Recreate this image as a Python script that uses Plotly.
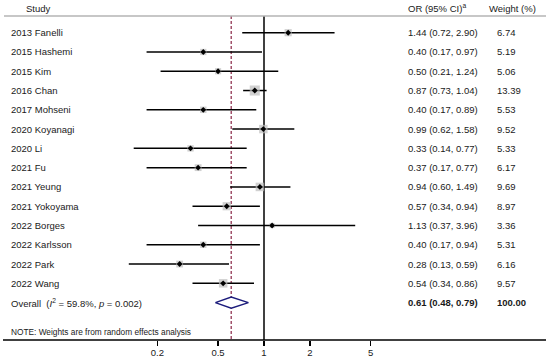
import plotly.graph_objects as go

studies = ["2013 Fanelli", "2015 Hashemi", "2015 Kim", "2016 Chan", "2017 Mohseni",
           "2020 Koyanagi", "2020 Li", "2021 Fu", "2021 Yeung", "2021 Yokoyama",
           "2022 Borges", "2022 Karlsson", "2022 Park", "2022 Wang"]
or_vals = [1.44, 0.40, 0.50, 0.87, 0.40, 0.99, 0.33, 0.37, 0.94, 0.57, 1.13, 0.40, 0.28, 0.54]
ci_low = [0.72, 0.17, 0.21, 0.73, 0.17, 0.62, 0.14, 0.17, 0.60, 0.34, 0.37, 0.17, 0.13, 0.34]
ci_high = [2.90, 0.97, 1.24, 1.04, 0.89, 1.58, 0.77, 0.77, 1.49, 0.94, 3.96, 0.94, 0.59, 0.86]
weights = [6.74, 5.19, 5.06, 13.39, 5.53, 9.52, 5.33, 6.17, 9.69, 8.97, 3.36, 5.31, 6.16, 9.57]
overall_or = 0.61
overall_low = 0.48
overall_high = 0.79
overall_weight = 100.00
overall_label = "Overall  (<i>I</i><sup>2</sup> = 59.8%, <i>p</i> = 0.002)"
note_text = "NOTE: Weights are from random effects analysis"
tick_vals = [0.2, 0.5, 1, 2, 5]
tick_text = ["0.2", "0.5", "1", "2", "5"]

W, H = 550, 361
FONT = "Liberation Sans, Arial, sans-serif"
TXT = "#1a1a1a"
FS = 9.5
rows = list(range(1, len(studies) + 1))
overall_row = len(studies) + 1
note_row = 16.54
header_row = -0.28
sep_row = 0.134

fig = go.Figure()

# CI lines
xs, ys = [], []
for r, lo, hi in zip(rows, ci_low, ci_high):
    xs += [lo, hi, None]
    ys += [r, r, None]
fig.add_trace(go.Scatter(x=xs, y=ys, mode="lines", line=dict(color="black", width=1.5),
                         hoverinfo="skip", showlegend=False))
# weight squares
fig.add_trace(go.Scatter(x=or_vals, y=rows, mode="markers",
                         marker=dict(symbol="square", color="#bdbdbd",
                                     size=[2.75 * w ** 0.5 for w in weights],
                                     line=dict(width=0)),
                         showlegend=False))
# center points
fig.add_trace(go.Scatter(x=or_vals, y=rows, mode="markers",
                         marker=dict(symbol="diamond", color="black", size=4.5, line=dict(width=0)),
                         showlegend=False))
# overall diamond
h = 0.285
fig.add_trace(go.Scatter(x=[overall_low, overall_or, overall_high, overall_or, overall_low],
                         y=[overall_row, overall_row - h, overall_row, overall_row + h, overall_row],
                         mode="lines", fill="toself", fillcolor="white",
                         line=dict(color="#1c1c7c", width=1.5), showlegend=False))

# reference lines
fig.add_shape(type="line", xref="x", yref="y", x0=1, x1=1, y0=sep_row, y1=16.94,
              line=dict(color="black", width=1.5), layer="below")
fig.add_shape(type="line", xref="x", yref="y", x0=overall_or, x1=overall_or, y0=sep_row, y1=16.94,
              line=dict(color="#a0506a", width=1.5, dash="3px,2px"), layer="below")
# header separator
fig.add_shape(type="line", xref="paper", yref="y", x0=4 / W, x1=546 / W, y0=sep_row, y1=sep_row,
              line=dict(color="#b4b4b4", width=1.5))
# axis line
fig.add_shape(type="line", xref="paper", yref="paper", x0=3 / W, x1=546 / W, y0=0, y1=0,
              line=dict(color="black", width=1.5))

ann = []
def add_text(x_px, y, text, size=FS, bold=False):
    t = f"<b>{text}</b>" if bold else text
    ann.append(dict(x=x_px / W, y=y, xref="paper", yref="y", text=t, showarrow=False,
                    xanchor="left", yanchor="middle", xshift=-1,
                    font=dict(family=FONT, size=size, color=TXT)))

add_text(25, header_row, "Study")
add_text(407, header_row, "OR (95% CI)<sup>a</sup>")
add_text(488, header_row, "Weight (%)")
for r, s, o, lo, hi, w in zip(rows, studies, or_vals, ci_low, ci_high, weights):
    add_text(10, r, s)
    add_text(407, r, f"{o:.2f} ({lo:.2f}, {hi:.2f})")
    add_text(496, r, f"{w:.2f}")
add_text(10, overall_row, overall_label)
add_text(407, overall_row, f"{overall_or:.2f} ({overall_low:.2f}, {overall_high:.2f})", bold=True)
add_text(496, overall_row, f"{overall_weight:.2f}", bold=True)
add_text(10, note_row, note_text, size=8.3)

r0 = -264 / 152.6
r1 = (W - 264) / 152.6
fig.update_layout(
    width=W, height=H, margin=dict(l=0, r=0, t=0, b=21),
    paper_bgcolor="white", plot_bgcolor="white",
    annotations=ann,
    xaxis=dict(type="log", range=[r0, r1], tickvals=tick_vals, ticktext=tick_text,
               ticks="outside", ticklen=5, tickwidth=1.5, tickcolor="black",
               ticklabelstandoff=-1,
               showgrid=False, zeroline=False, showline=False,
               tickfont=dict(family=FONT, size=FS, color=TXT)),
    yaxis=dict(range=[16.94, -0.696], showgrid=False, zeroline=False, showline=False,
               showticklabels=False, ticks=""),
    font=dict(family=FONT),
)
fig.write_html("out.html", config={"displayModeBar": False, "staticPlot": True},
               post_script="document.body.style.margin='0';document.body.style.padding='0';")
